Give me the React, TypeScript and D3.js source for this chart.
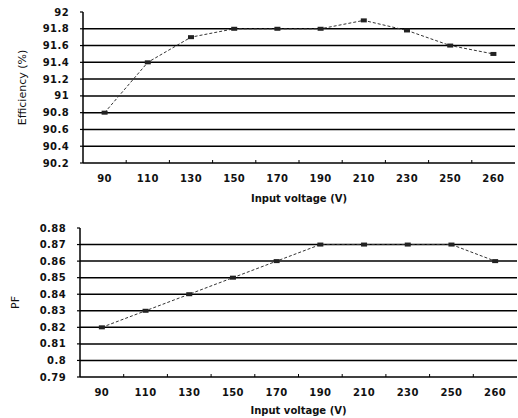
import { useEffect, useRef } from "react";
import * as d3 from "d3";

const voltages = ["90", "110", "130", "150", "170", "190", "210", "230", "250", "260"];
const efficiency = [90.8, 91.4, 91.7, 91.8, 91.8, 91.8, 91.9, 91.78, 91.6, 91.5];
const powerFactor = [0.82, 0.83, 0.84, 0.85, 0.86, 0.87, 0.87, 0.87, 0.87, 0.86];
const effTicks = [90.2, 90.4, 90.6, 90.8, 91, 91.2, 91.4, 91.6, 91.8, 92];
const pfTicks = [0.79, 0.8, 0.81, 0.82, 0.83, 0.84, 0.85, 0.86, 0.87, 0.88];

const FONT = "'DejaVu Sans', sans-serif";

function drawPanel(svg, opts) {
    const { left, right, top, bottom, values, ticks, fmt, yTitle, yTitleX, xTitleY } = opts;

    const x = d3.scaleBand()
        .domain(voltages)
        .range([left, right]);

    const y = d3.scaleLinear()
        .domain([ticks[0], ticks[ticks.length - 1]])
        .range([bottom, top]);

    const g = svg.append("g");

    // gridlines (not top, bottom one is the axis)
    g.selectAll("line.grid")
        .data(ticks.slice(0, ticks.length - 1))
        .enter()
        .append("line")
        .attr("x1", left)
        .attr("x2", right)
        .attr("y1", d => y(d))
        .attr("y2", d => y(d))
        .attr("stroke", "#000")
        .attr("stroke-width", 1.5);

    // y axis
    g.append("line")
        .attr("x1", left).attr("x2", left)
        .attr("y1", top).attr("y2", bottom)
        .attr("stroke", "#000")
        .attr("stroke-width", 1.5);

    g.selectAll("line.ytick")
        .data(ticks)
        .enter()
        .append("line")
        .attr("x1", left - 3)
        .attr("x2", left)
        .attr("y1", d => y(d))
        .attr("y2", d => y(d))
        .attr("stroke", "#000")
        .attr("stroke-width", 1.2);

    g.selectAll("text.ytick")
        .data(ticks)
        .enter()
        .append("text")
        .attr("x", left - 14)
        .attr("y", d => y(d) + 3.5)
        .attr("text-anchor", "end")
        .attr("font-family", FONT)
        .attr("font-weight", "bold")
        .attr("font-size", "10px")
        .attr("letter-spacing", "0.4px")
        .attr("fill", "#111")
        .text(fmt);

    // x ticks at band boundaries
    const bounds = voltages.slice(1).map(v => x(v));
    g.selectAll("line.xtick")
        .data(bounds)
        .enter()
        .append("line")
        .attr("x1", d => d).attr("x2", d => d)
        .attr("y1", bottom - 3).attr("y2", bottom)
        .attr("stroke", "#000")
        .attr("stroke-width", 1);

    g.selectAll("text.xtick")
        .data(voltages)
        .enter()
        .append("text")
        .attr("x", d => x(d) + x.bandwidth() / 2)
        .attr("y", bottom + 19)
        .attr("text-anchor", "middle")
        .attr("font-family", FONT)
        .attr("font-weight", "bold")
        .attr("font-size", "10px")
        .attr("letter-spacing", "0.4px")
        .attr("fill", "#111")
        .text(d => d);

    // line + markers
    const pts = voltages.map((v, i) => [x(v) + x.bandwidth() / 2, y(values[i])]);
    g.append("path")
        .attr("d", d3.line()(pts))
        .attr("fill", "none")
        .attr("stroke", "#333")
        .attr("stroke-width", 1)
        .attr("stroke-dasharray", "3,2");

    g.selectAll("rect.pt")
        .data(pts)
        .enter()
        .append("rect")
        .attr("x", d => d[0] - 3)
        .attr("y", d => d[1] - 2)
        .attr("width", 6)
        .attr("height", 4)
        .attr("fill", "#222");

    // titles
    g.append("text")
        .attr("x", (left + right) / 2)
        .attr("y", xTitleY)
        .attr("text-anchor", "middle")
        .attr("font-family", FONT)
        .attr("font-weight", "bold")
        .attr("font-size", "10px")
        .attr("fill", "#111")
        .text("Input voltage (V)");

    g.append("text")
        .attr("transform", `translate(${yTitleX},${(top + bottom) / 2}) rotate(-90)`)
        .attr("text-anchor", "middle")
        .attr("font-family", FONT)
        .attr("font-size", "11px")
        .attr("fill", "#111")
        .text(yTitle);
}

export default function App() {
    const svgRef = useRef(null);

    useEffect(() => {
        const svg = d3.select(svgRef.current);
        svg.selectAll("*").remove();

        drawPanel(svg, {
            left: 83, right: 515, top: 12, bottom: 163,
            values: efficiency, ticks: effTicks,
            fmt: d => String(+d.toFixed(1)),
            yTitle: "Efficiency (%)", yTitleX: 26, xTitleY: 202
        });

        drawPanel(svg, {
            left: 80, right: 517, top: 228, bottom: 377,
            values: powerFactor, ticks: pfTicks,
            fmt: d => String(+d.toFixed(2)),
            yTitle: "PF", yTitleX: 19, xTitleY: 414
        });
    }, []);

    return (
        <svg
            ref={svgRef}
            width={518}
            height={418}
            style={{ position: "absolute", left: 0, top: 0, background: "#fff" }}
        ></svg>
    );
}
